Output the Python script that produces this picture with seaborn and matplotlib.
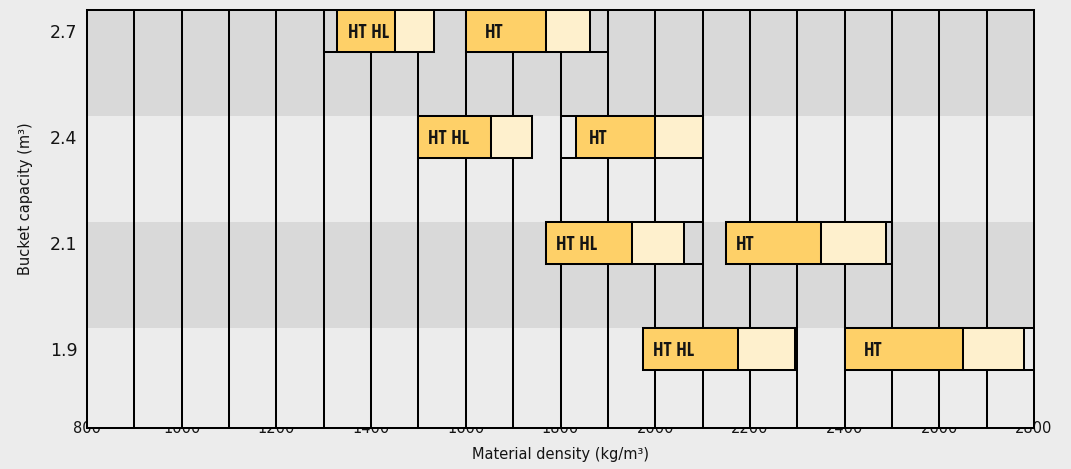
import matplotlib
matplotlib.use('Agg')
import matplotlib.pyplot as plt
from matplotlib import font_manager as fm
import seaborn as sns
import pandas as pd

# ---------------- data ----------------
capacities = ['2.7', '2.4', '2.1', '1.9']          # bucket capacity (m3)

# HT HL: outer range box, dark segment, light segment (kg/m3)
hthl_box_start = [1300, 1500, 1770, 1975]
hthl_start     = [1328, 1500, 1770, 1975]
hthl_mid       = [1450, 1653, 1950, 2175]
hthl_end       = [1533, 1740, 2060, 2295]
hthl_box_end   = [1533, 1740, 2100, 2295]

# HT
ht_box_start = [1600, 1800, 2150, 2400]
ht_start     = [1600, 1833, 2150, 2400]
ht_mid       = [1770, 2000, 2350, 2650]
ht_end       = [1862, 2100, 2487, 2778]
ht_box_end   = [1900, 2100, 2500, 2800]

x_ticks = [800, 1000, 1200, 1400, 1600, 1800, 2000, 2200, 2400, 2600, 2800]
x_grid = [900, 1000, 1100, 1200, 1300, 1400, 1500, 1600, 1700, 1800,
          1900, 2000, 2100, 2200, 2300, 2400, 2500, 2600, 2700]

# ---------------- style ----------------
DARK = '#FED068'
LIGHT = '#FEF0CD'
BAND_DARK = '#D9D9D9'
BAND_LIGHT = '#ECECEC'
BG = '#ECECEC'
TXT = '#141414'

sns.set_theme(style='white')
plt.rcParams['font.family'] = ['DejaVu Sans']

names = {f.name for f in fm.fontManager.ttflist}
label_family = ['Open Sans Condensed', 'DejaVu Sans'] if 'Open Sans Condensed' in names else ['DejaVu Sans']

W, H = 1071, 469
fig, ax = plt.subplots(figsize=(W / 100, H / 100), dpi=100)
fig.patch.set_facecolor(BG)
ax.set_facecolor(BG)
top_px, bot_px, left_px, right_px = 10, 428, 87, 1034
fig.subplots_adjust(left=left_px / W, right=right_px / W,
                    top=1 - top_px / H, bottom=1 - bot_px / H)

BAR_W = 0.4
EDGE = 1.45


def draw(starts, ends, **kws):
    df = pd.DataFrame({'capacity': capacities,
                       'start': starts,
                       'length': [e - s for s, e in zip(starts, ends)]})
    sns.barplot(data=df, y='capacity', x='length', order=capacities,
                orient='h', left=df['start'].to_numpy(), width=BAR_W,
                errorbar=None, ax=ax, zorder=2, linewidth=EDGE,
                edgecolor='black', **kws)


# outline range boxes
draw(hthl_box_start, hthl_box_end, color='black', fill=False)
draw(ht_box_start, ht_box_end, color='black', fill=False)
# dark + light segments
draw(hthl_start, hthl_mid, color=DARK, saturation=1)
draw(hthl_mid, hthl_end, color=LIGHT, saturation=1)
draw(ht_start, ht_mid, color=DARK, saturation=1)
draw(ht_mid, ht_end, color=LIGHT, saturation=1)

# background bands (one per capacity row)
for i in range(len(capacities)):
    ax.axhspan(i - BAR_W / 2, i + 1 - BAR_W / 2,
               color=BAND_DARK if i % 2 == 0 else BAND_LIGHT, zorder=1, lw=0)

# vertical grid lines
for gx in x_grid:
    ax.axvline(gx, color='black', lw=EDGE, zorder=1.5)

# bar labels
hthl_pad = [8, 7, 7, 7]
ht_pad = [14, 9, 7, 14]
for i in range(len(capacities)):
    ax.annotate('HT HL', xy=(hthl_start[i], i), xytext=(hthl_pad[i], -1),
                textcoords='offset points', ha='left', va='center',
                fontsize=13.5, fontweight='bold', family=label_family,
                color=TXT, zorder=4)
    ax.annotate('HT', xy=(ht_start[i], i), xytext=(ht_pad[i], -1),
                textcoords='offset points', ha='left', va='center',
                fontsize=13.5, fontweight='bold', family=label_family,
                color=TXT, zorder=4)

# axes limits / ticks
unit_px = 106.0
y_top = -BAR_W / 2
y_bot = y_top + (bot_px - top_px) / unit_px
ax.set_ylim(y_bot, y_top)
ax.set_xlim(800, 2800)
ax.set_xticks(x_ticks)
ax.set_xticklabels([str(t) for t in x_ticks])
ax.set_yticks(range(len(capacities)))
ax.set_yticklabels(capacities)
ax.grid(False)
ax.set_axisbelow(True)
ax.xaxis.set_zorder(0.5)
ax.yaxis.set_zorder(0.5)
ax.tick_params(axis='x', length=0, pad=-5, labelsize=10.5, labelcolor=TXT)
ax.tick_params(axis='y', length=0, pad=7, labelsize=12.5, labelcolor=TXT)

for s in ax.spines.values():
    s.set_visible(True)
    s.set_color('black')
    s.set_linewidth(EDGE)
    s.set_zorder(2.5)

ax.set_xlabel('Material density (kg/m³)', fontsize=10.5, color=TXT)
ax.set_ylabel('Bucket capacity (m³)', fontsize=10.5, color=TXT)
ax.xaxis.set_label_coords(0.5, -(447 - bot_px) / (bot_px - top_px))
ax.yaxis.set_label_coords((33 - left_px) / (right_px - left_px),
                          1 - (199 - top_px) / (bot_px - top_px))

fig.savefig('out.png', dpi=100, facecolor=BG)
